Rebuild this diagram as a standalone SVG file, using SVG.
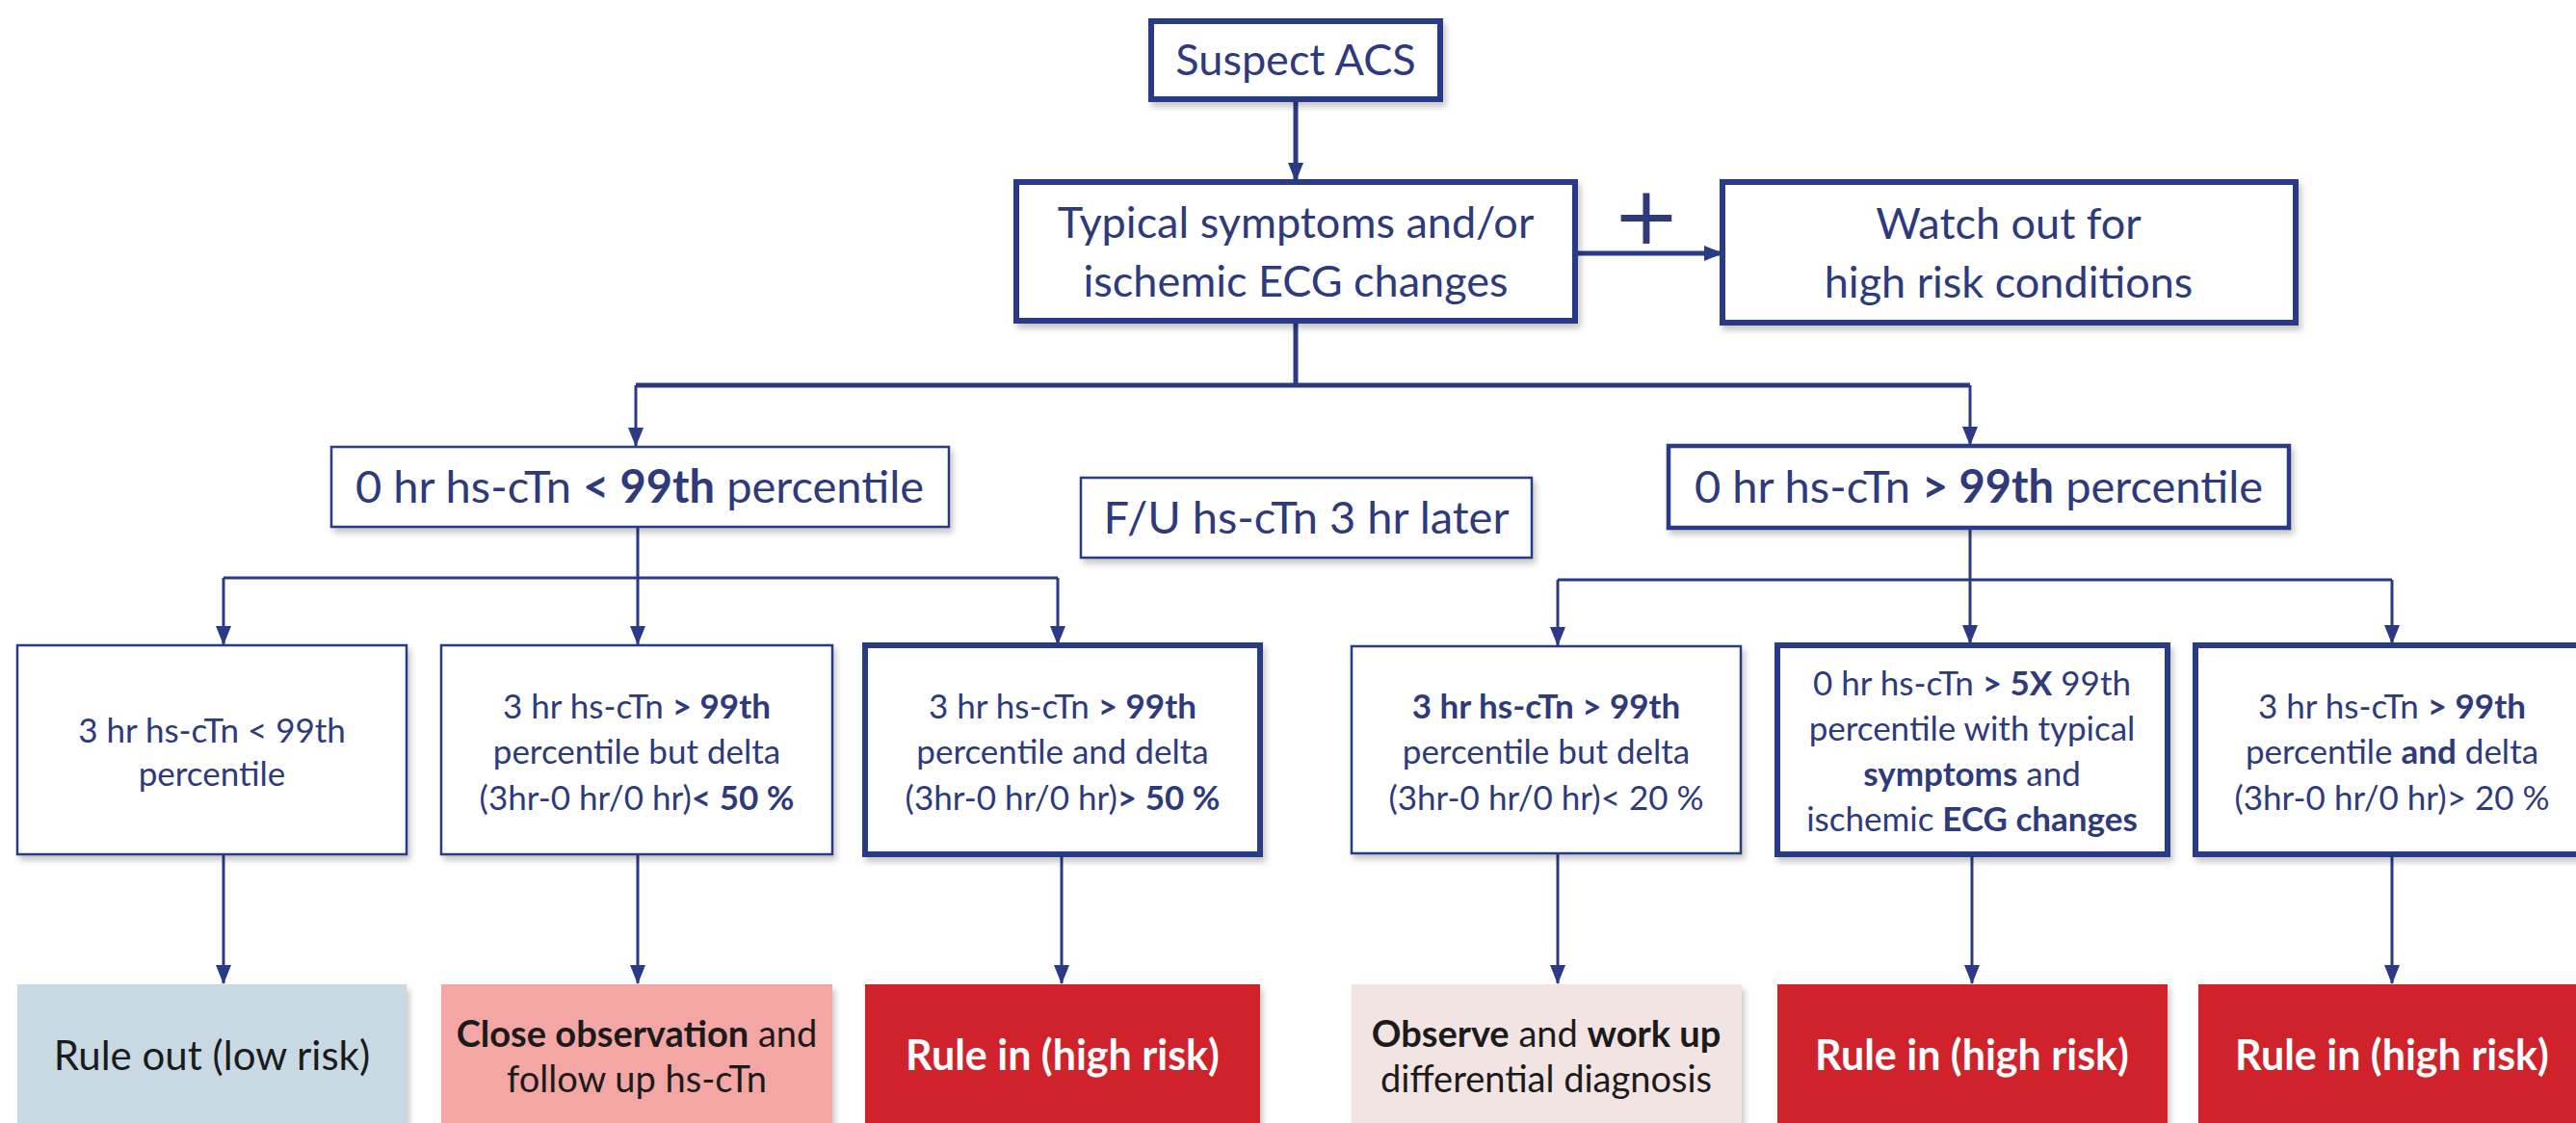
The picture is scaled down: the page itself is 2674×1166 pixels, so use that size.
<svg xmlns="http://www.w3.org/2000/svg" width="2674" height="1166" viewBox="0 0 2674 1166">
<defs>
<filter id="sh" x="-5%" y="-5%" width="115%" height="120%">
<feDropShadow dx="3" dy="5" stdDeviation="3" flood-color="#000" flood-opacity="0.22"/>
</filter>
<marker id="ah" markerUnits="userSpaceOnUse" markerWidth="20" markerHeight="16" viewBox="0 0 20 16" refX="19" refY="8" orient="auto">
<path d="M0,0 L20,8 L0,16 Z" fill="#2b3a86"/>
</marker>
</defs>
<style>
text{font-family:Lato,"Open Sans","Liberation Sans",sans-serif;fill:#2e3a7c;text-anchor:middle}
.b{font-weight:bold}
.box{fill:#fff;stroke:#2b3a86}
.thick{stroke-width:6}
.thin{stroke-width:2.5}
.mid{stroke-width:4.5}
.f45{font-size:45px}
.f47{font-size:47px}
.f35{font-size:35px}
.f38{font-size:38px}
.f42{font-size:42px}
.f43{font-size:43px}
.dark{fill:#1b1b1b}
.wht{fill:#fff;font-weight:bold}
.con{fill:none;stroke:#2b3a86;stroke-width:3}
.conT{fill:none;stroke:#2b3a86;stroke-width:5}
</style>
<rect width="2674" height="1166" fill="#fff"/>

<g id="connectors">
<line class="conT" x1="1345" y1="103" x2="1345" y2="188" marker-end="url(#ah)"/>
<line class="conT" x1="1635" y1="263" x2="1788" y2="263" marker-end="url(#ah)"/>
<polyline class="conT" points="1345,333 1345,400"/>
<polyline class="conT" points="660,400 2045,400"/>
<line class="con" x1="660" y1="400" x2="660" y2="463" marker-end="url(#ah)"/>
<line class="con" x1="2045" y1="400" x2="2045" y2="462" marker-end="url(#ah)"/>
<line class="con" x1="662" y1="547" x2="662" y2="600"/>
<line class="con" x1="232" y1="600" x2="1098" y2="600"/>
<line class="con" x1="232" y1="600" x2="232" y2="669" marker-end="url(#ah)"/>
<line class="con" x1="662" y1="600" x2="662" y2="669" marker-end="url(#ah)"/>
<line class="con" x1="1098" y1="600" x2="1098" y2="669" marker-end="url(#ah)"/>
<line class="con" x1="2045" y1="548" x2="2045" y2="602"/>
<line class="con" x1="1617" y1="602" x2="2483" y2="602"/>
<line class="con" x1="1617" y1="602" x2="1617" y2="670" marker-end="url(#ah)"/>
<line class="con" x1="2045" y1="602" x2="2045" y2="668" marker-end="url(#ah)"/>
<line class="con" x1="2483" y1="602" x2="2483" y2="668" marker-end="url(#ah)"/>
<line class="con" x1="232" y1="887" x2="232" y2="1021" marker-end="url(#ah)"/>
<line class="con" x1="662" y1="887" x2="662" y2="1021" marker-end="url(#ah)"/>
<line class="con" x1="1102" y1="887" x2="1102" y2="1021" marker-end="url(#ah)"/>
<line class="con" x1="1617" y1="887" x2="1617" y2="1021" marker-end="url(#ah)"/>
<line class="con" x1="2047" y1="887" x2="2047" y2="1021" marker-end="url(#ah)"/>
<line class="con" x1="2483" y1="887" x2="2483" y2="1021" marker-end="url(#ah)"/>
<text x="1709" y="253" style="font-size:84px;font-family:'DejaVu Sans',sans-serif">+</text>
</g>

<g id="suspect">
<rect class="box thick" x="1195" y="22" width="300" height="81" filter="url(#sh)"/>
<text class="f45" x="1345" y="78">Suspect ACS</text>
</g>

<g id="typical">
<rect class="box thick" x="1055" y="189" width="580" height="144" filter="url(#sh)"/>
<text class="f45" x="1345" y="247">Typical symptoms and/or</text>
<text class="f45" x="1345" y="308">ischemic ECG changes</text>
</g>

<g id="watch">
<rect class="box thick" x="1788" y="189" width="595" height="146" filter="url(#sh)"/>
<text class="f45" x="2085" y="248">Watch out for</text>
<text class="f45" x="2085" y="309">high risk conditions</text>
</g>

<g id="low0">
<rect class="box thin" x="344" y="464" width="641" height="83" filter="url(#sh)"/>
<text class="f47" x="664" y="522">0 hr hs-cTn <tspan class="b">&lt; 99th</tspan> percentile</text>
</g>

<g id="fu">
<rect class="box thin" x="1122" y="496" width="468" height="83" filter="url(#sh)"/>
<text class="f47" x="1356" y="554">F/U hs-cTn 3 hr later</text>
</g>

<g id="high0">
<rect class="box mid" x="1732" y="463" width="644" height="85" filter="url(#sh)"/>
<text class="f47" x="2054" y="522">0 hr hs-cTn <tspan class="b">&gt; 99th</tspan> percentile</text>
</g>

<g id="c1">
<rect class="box thin" x="18" y="670" width="404" height="217" filter="url(#sh)"/>
<text class="f35" x="220" y="771">3 hr hs-cTn &lt; 99th</text>
<text class="f35" x="220" y="816">percentile</text>
</g>

<g id="c2">
<rect class="box thin" x="458" y="670" width="406" height="217" filter="url(#sh)"/>
<text class="f35" x="661" y="746">3 hr hs-cTn <tspan class="b">&gt; 99th</tspan></text>
<text class="f35" x="661" y="793">percentile but delta</text>
<text class="f35" x="661" y="841">(3hr-0 hr/0 hr)<tspan class="b">&lt; 50 %</tspan></text>
</g>

<g id="c3">
<rect class="box thick" x="898" y="670" width="410" height="217" filter="url(#sh)"/>
<text class="f35" x="1103" y="746">3 hr hs-cTn <tspan class="b">&gt; 99th</tspan></text>
<text class="f35" x="1103" y="793">percentile and delta</text>
<text class="f35" x="1103" y="841">(3hr-0 hr/0 hr)<tspan class="b">&gt; 50 %</tspan></text>
</g>

<g id="c4">
<rect class="box thin" x="1403" y="671" width="404" height="215" filter="url(#sh)"/>
<text class="f35" x="1605" y="746"><tspan class="b">3 hr hs-cTn &gt; 99th</tspan></text>
<text class="f35" x="1605" y="793">percentile but delta</text>
<text class="f35" x="1605" y="841">(3hr-0 hr/0 hr)&lt; 20 %</text>
</g>

<g id="c5">
<rect class="box thick" x="1845" y="670" width="405" height="217" filter="url(#sh)"/>
<text class="f35" x="2047" y="722">0 hr hs-cTn <tspan class="b">&gt; 5X</tspan> 99th</text>
<text class="f35" x="2047" y="769">percentile with typical</text>
<text class="f35" x="2047" y="816"><tspan class="b">symptoms</tspan> and</text>
<text class="f35" x="2047" y="863">ischemic <tspan class="b">ECG changes</tspan></text>
</g>

<g id="c6">
<rect class="box thick" x="2279" y="670" width="420" height="217" filter="url(#sh)"/>
<text class="f35" x="2483" y="746">3 hr hs-cTn <tspan class="b">&gt; 99th</tspan></text>
<text class="f35" x="2483" y="793">percentile <tspan class="b">and</tspan> delta</text>
<text class="f35" x="2483" y="841">(3hr-0 hr/0 hr)&gt; 20 %</text>
</g>

<g id="r1">
<rect x="18" y="1022" width="404" height="150" fill="#c8d9e3" filter="url(#sh)"/>
<text class="f42 dark" x="220" y="1111">Rule out (low risk)</text>
</g>

<g id="r2">
<rect x="458" y="1022" width="406" height="150" fill="#f4a6a4" filter="url(#sh)"/>
<text class="f38 dark" x="661" y="1087"><tspan class="b">Close observation</tspan> and</text>
<text class="f38 dark" x="661" y="1134">follow up hs-cTn</text>
</g>

<g id="r3">
<rect x="898" y="1022" width="410" height="150" fill="#d0212a" filter="url(#sh)"/>
<text class="f43 wht" x="1103" y="1111">Rule in (high risk)</text>
</g>

<g id="r4">
<rect x="1403" y="1022" width="405" height="150" fill="#f3e4e4" filter="url(#sh)"/>
<text class="f38 dark" x="1605" y="1087"><tspan class="b">Observe</tspan> and <tspan class="b">work up</tspan></text>
<text class="f38 dark" x="1605" y="1134">differential diagnosis</text>
</g>

<g id="r5">
<rect x="1845" y="1022" width="405" height="150" fill="#d0212a" filter="url(#sh)"/>
<text class="f43 wht" x="2047" y="1111">Rule in (high risk)</text>
</g>

<g id="r6">
<rect x="2282" y="1022" width="420" height="150" fill="#d0212a" filter="url(#sh)"/>
<text class="f43 wht" x="2483" y="1111">Rule in (high risk)</text>
</g>
</svg>
